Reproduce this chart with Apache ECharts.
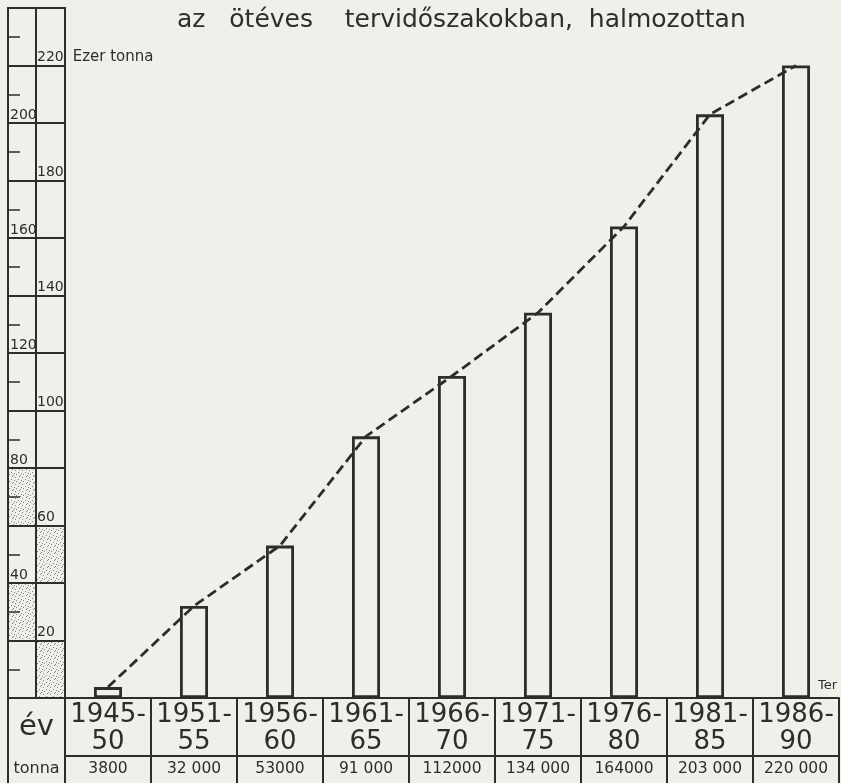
<!DOCTYPE html>
<html>
<head>
<meta charset="utf-8">
<script src="https://cdn.jsdelivr.net/npm/echarts@6/dist/echarts.min.js"></script>
<style>
  html, body { margin: 0; padding: 0; background: #f0efe9; }
  #Bar { width: 841px; height: 783px; }
</style>
</head>
<body>
<div id="Bar"></div>
<script>
// adatok (ezer tonna)
var periods = ["1945-50", "1951-55", "1956-60", "1961-65", "1966-70", "1971-75", "1976-80", "1981-85", "1986-90"]
var values = [3.8, 32, 53, 91, 112, 134, 164, 203, 220]
var tonnaLabels = ["3800", "32 000", "53000", "91 000", "112000", "134 000", "164000", "203 000", "220 000"]
// bal oldali skála pontozott cellái: [oszlop, alsó, felső]
var stippleCells = [[0, 60, 80], [1, 40, 60], [0, 20, 40], [1, 0, 20]]

var ink = "#2d2d2d"
var font = "'DejaVu Sans', sans-serif"

// pontozott minta
var pc = document.createElement("canvas")
pc.width = 7; pc.height = 7
var ctx = pc.getContext("2d")
ctx.fillStyle = "rgba(60,60,60,0.6)"
;[[1, 1], [4, 3], [2, 5], [6, 6], [5, 0], [0, 4]].forEach(function (p) { ctx.fillRect(p[0], p[1], 1, 1) })
var stipple = { image: pc, repeat: "repeat" }

var Echarts = echarts.init(document.getElementById("Bar"))
Echarts.setOption({
  backgroundColor: "#f0efe9",
  animation: false,
  //cím
  title: {
    text: "az   ötéves    tervidőszakokban,  halmozottan",
    left: 172,
    top: 3,
    textStyle: { fontFamily: font, fontSize: 25, fontWeight: "normal", color: ink }
  },
  grid: [
    { left: 8, top: 8, width: 57, bottom: 85, show: true, borderColor: ink, borderWidth: 2, backgroundColor: "transparent" },
    { left: 65, right: 2, top: 8, bottom: 85 }
  ],
  xAxis: [
    {
      gridIndex: 0, type: "category", data: ["év"], position: "bottom",
      axisLine: { lineStyle: { color: ink, width: 2 } },
      axisTick: { show: true, length: 85, lineStyle: { color: ink, width: 2 } },
      axisLabel: { margin: 15, color: ink, fontFamily: font, fontSize: 29 }
    },
    {
      gridIndex: 0, type: "category", data: ["tonna"], position: "bottom", offset: 58,
      axisLine: { lineStyle: { color: ink, width: 2 } },
      axisTick: { show: false },
      axisLabel: { margin: 5, color: ink, fontFamily: font, fontSize: 16 }
    },
    {
      gridIndex: 1, type: "category", data: periods, position: "bottom",
      axisLine: { lineStyle: { color: ink, width: 2 } },
      axisTick: { show: true, length: 85, lineStyle: { color: ink, width: 2 } },
      axisLabel: {
        interval: 0, margin: 4, color: ink, fontFamily: font, fontSize: 26, lineHeight: 27,
        formatter: function (v) { return v.replace("-", "-\n") }
      },
      name: "Ter", nameLocation: "end", nameGap: -21,
      nameTextStyle: { color: ink, fontFamily: font, fontSize: 13, align: "left", verticalAlign: "bottom", padding: [0, 0, 6, 0] }
    },
    {
      gridIndex: 1, type: "category", data: tonnaLabels, position: "bottom", offset: 58,
      axisLine: { lineStyle: { color: ink, width: 2 } },
      axisTick: { show: false },
      axisLabel: { interval: 0, margin: 5, color: ink, fontFamily: font, fontSize: 15.5 }
    }
  ],
  yAxis: [
    {
      gridIndex: 0, type: "value", min: 0, max: 240, interval: 20, position: "left",
      axisLine: { show: true, lineStyle: { color: ink, width: 2 } },
      axisTick: { show: false, inside: true },
      minorTick: { show: true, splitNumber: 2, length: 12, lineStyle: { color: ink, width: 1.5 } },
      splitLine: { show: true, lineStyle: { color: ink, width: 2 } },
      axisLabel: {
        inside: true, margin: 2, verticalAlign: "bottom", padding: [0, 0, 1, 0],
        color: ink, fontFamily: font, fontSize: 14,
        formatter: function (v) { return (v % 40 === 0 && v > 0 && v < 240) ? v : "" }
      }
    },
    {
      gridIndex: 0, type: "value", min: 0, max: 240, interval: 20, position: "left", offset: -28,
      axisLine: { show: true, lineStyle: { color: ink, width: 2 } },
      axisTick: { show: false },
      splitLine: { show: false },
      axisLabel: {
        inside: true, margin: 1, verticalAlign: "bottom", padding: [0, 0, 1, 0],
        color: ink, fontFamily: font, fontSize: 14,
        formatter: function (v) {
          if (v === 220) return "{n|220}{u|Ezer tonna}"
          return (v % 40 === 20) ? "{n|" + v + "}" : ""
        },
        rich: {
          n: { fontFamily: font, fontSize: 14, color: ink },
          u: { fontFamily: font, fontSize: 15, color: ink, padding: [0, 0, 0, 9] }
        }
      }
    },
    { gridIndex: 1, type: "value", min: 0, max: 240, interval: 20, show: false }
  ],
  series: [
    {
      type: "custom", xAxisIndex: 0, yAxisIndex: 0, data: stippleCells, silent: true,
      renderItem: function (params, api) {
        var cs = params.coordSys
        var w = cs.width / 2
        var top = api.coord([0, api.value(2)])[1]
        var bot = api.coord([0, api.value(1)])[1]
        return {
          type: "rect",
          shape: { x: cs.x + api.value(0) * w, y: top, width: w, height: bot - top },
          style: { fill: stipple }
        }
      }
    },
    {
      type: "bar", xAxisIndex: 2, yAxisIndex: 2, data: values, barWidth: 28,
      itemStyle: { color: "rgba(0,0,0,0)", borderColor: ink, borderWidth: 2.8 }
    },
    {
      type: "line", xAxisIndex: 2, yAxisIndex: 2, data: values, symbol: "none", z: 5,
      lineStyle: { color: ink, width: 2.8, type: [10, 5] }
    }
  ]
})
</script>
</body>
</html>
